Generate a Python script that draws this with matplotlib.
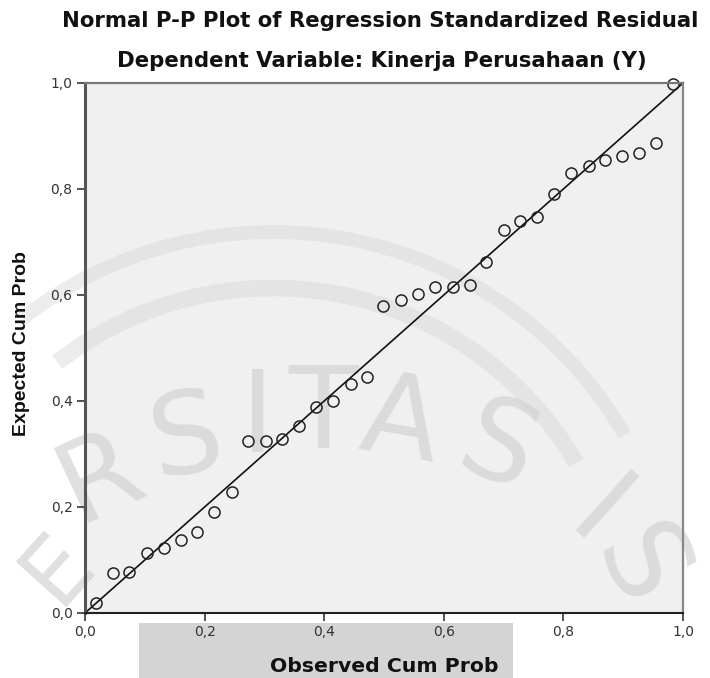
import matplotlib
matplotlib.use("Agg")
import matplotlib.pyplot as plt
from matplotlib.patches import Rectangle, Arc
from matplotlib.ticker import FuncFormatter

# observed vs expected cumulative probabilities
observed = [0.018, 0.046, 0.074, 0.103, 0.132, 0.160, 0.188, 0.216, 0.245,
            0.273, 0.302, 0.330, 0.358, 0.387, 0.415, 0.444, 0.472, 0.499,
            0.528, 0.557, 0.586, 0.615, 0.643, 0.671, 0.700, 0.727, 0.756,
            0.784, 0.812, 0.842, 0.870, 0.898, 0.927, 0.955, 0.984]
expected = [0.018, 0.076, 0.077, 0.113, 0.123, 0.138, 0.153, 0.191, 0.228,
            0.325, 0.325, 0.328, 0.352, 0.388, 0.400, 0.432, 0.446, 0.579,
            0.591, 0.602, 0.615, 0.616, 0.618, 0.662, 0.723, 0.740, 0.748,
            0.790, 0.831, 0.844, 0.855, 0.862, 0.867, 0.886, 0.998]
ticks = [0.0, 0.2, 0.4, 0.6, 0.8, 1.0]

title = "Normal P-P Plot of Regression Standardized Residual"
subtitle = "Dependent Variable: Kinerja Perusahaan (Y)"

# faint scan watermark letters: (char, x px, y px, rotation, size)
watermark = [("E", 58, 568, 48, 66), ("R", 100, 478, 25, 82),
             ("S", 186, 440, 10, 82), ("I", 258, 420, 0, 82),
             ("T", 323, 417, 0, 82), ("A", 400, 423, -10, 82),
             ("S", 498, 450, -22, 82), ("I", 597, 518, -42, 82),
             ("S", 637, 568, -62, 82)]

W, H = 710, 678
plt.rcParams['font.family'] = ['DejaVu Sans']

fig = plt.figure(figsize=(W / 100, H / 100), dpi=100)
fig.patch.set_facecolor('white')

# background layer in pixel coordinates
bg = fig.add_axes([0, 0, 1, 1], zorder=0)
bg.set_xlim(0, W)
bg.set_ylim(H, 0)
bg.axis('off')
bg.add_patch(Rectangle((85, 83), 598, 530, facecolor='#f0f0f0', edgecolor='none'))
bg.add_patch(Rectangle((139, 623), 374, 60, facecolor='#d4d4d4', edgecolor='none'))
for r, lw in [(406, 10), (350, 12)]:
    bg.add_patch(Arc((273, 638), 2 * r, 2 * r, theta1=232, theta2=330,
                     color='#dadada', lw=lw, alpha=0.5))
for ch, x, y, rot, size in watermark:
    bg.text(x, y, ch, fontsize=size, color='#d0d0d0', alpha=0.65,
            ha='center', va='center', rotation=rot)

ax = fig.add_axes([85 / W, 1 - 613 / H, 598 / W, 530 / H], zorder=1)
ax.set_facecolor('none')
ax.plot([0, 1], [0, 1], color='#111111', lw=1.2)
ax.plot(observed, expected, 'o', mfc='none', mec='#222222', ms=8, mew=1.1,
        clip_on=False)

ax.set_xlim(0, 1)
ax.set_ylim(0, 1)
ax.set_xticks(ticks)
ax.set_yticks(ticks)
fmt = FuncFormatter(lambda v, p: f"{v:.1f}".replace('.', ','))
ax.xaxis.set_major_formatter(fmt)
ax.yaxis.set_major_formatter(fmt)
ax.tick_params(direction='out', length=6, width=1.3, color='#444444',
               labelsize=10, labelcolor='#333333', pad=3)

ax.spines['left'].set_color('#555555')
ax.spines['left'].set_linewidth(2.2)
ax.spines['bottom'].set_color('#222222')
ax.spines['bottom'].set_linewidth(1.5)
ax.spines['top'].set_color('#777777')
ax.spines['top'].set_linewidth(1.6)
ax.spines['right'].set_color('#888888')
ax.spines['right'].set_linewidth(1.6)

fig.text(22 / W, 1 - 344 / H, "Expected Cum Prob", rotation=90, fontsize=14,
         fontweight='bold', ha='center', va='center', color='#111111',
         family='Liberation Sans')
fig.text(384 / W, 1 - 666 / H, "Observed Cum Prob", fontsize=14.7,
         fontweight='bold', ha='center', va='center', color='#111111')
fig.text(380 / W, 1 - 21 / H, title, fontsize=15.3, fontweight='bold',
         ha='center', va='center', color='#111111')
fig.text(382 / W, 1 - 61 / H, subtitle, fontsize=15.3, fontweight='bold',
         ha='center', va='center', color='#111111')

fig.savefig("out.png", dpi=100)
